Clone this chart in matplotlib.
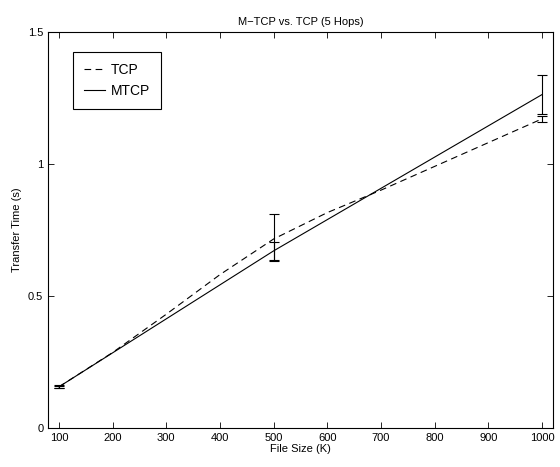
import matplotlib
matplotlib.use("Agg")
import matplotlib.pyplot as plt

plt.rcParams['font.family'] = ['Liberation Sans', 'DejaVu Sans']

# data
tcp_x = [100, 200, 300, 400, 500, 600, 700, 800, 900, 1000]
tcp_y = [0.155, 0.285, 0.43, 0.58, 0.715, 0.815, 0.90, 0.99, 1.08, 1.17]
mtcp_x = [100, 500, 1000]
mtcp_y = [0.155, 0.67, 1.262]

err_x = [100, 500, 1000]
tcp_err_y = [0.155, 0.72, 1.17]
tcp_err = [0.006, 0.09, 0.012]
mtcp_err_y = [0.155, 0.67, 1.262]
mtcp_err = [0.005, 0.035, 0.075]

xticks = [100, 200, 300, 400, 500, 600, 700, 800, 900, 1000]
yticks = [0, 0.5, 1, 1.5]
ytick_labels = ['0', '0.5', '1', '1.5']

fig = plt.figure(figsize=(5.6, 4.67), dpi=100)
ax = fig.add_axes([0.086, 0.084, 0.901, 0.848])

ax.plot(tcp_x, tcp_y, 'k--', lw=0.8, dashes=(6, 4), label='TCP')
ax.plot(mtcp_x, mtcp_y, 'k-', lw=0.8, label='MTCP')
ax.errorbar(err_x, tcp_err_y, yerr=tcp_err, fmt='none', ecolor='k',
            elinewidth=0.8, capsize=3.6, capthick=0.8)
ax.errorbar(err_x, mtcp_err_y, yerr=mtcp_err, fmt='none', ecolor='k',
            elinewidth=0.8, capsize=3.6, capthick=0.8)

ax.set_xlim(80, 1020)
ax.set_ylim(0, 1.5)
ax.set_xticks(xticks)
ax.set_yticks(yticks)
ax.set_yticklabels(ytick_labels)
ax.tick_params(direction='in', top=True, right=True, labelsize=8, length=4, width=0.6)
for s in ax.spines.values():
    s.set_linewidth(0.8)

ax.set_xlabel('File Size (K)', fontsize=8, labelpad=1)
ax.set_ylabel('Transfer Time (s)', fontsize=8)
ax.set_title('M\u2212TCP vs. TCP (5 Hops)', fontsize=8, pad=5)

leg = ax.legend(loc='upper left', bbox_to_anchor=(0.05, 0.95), fontsize=10,
                frameon=True, fancybox=False, edgecolor='k', framealpha=1,
                handlelength=1.5, borderpad=0.8, labelspacing=0.5,
                borderaxespad=0, handletextpad=0.4)
leg.get_frame().set_linewidth(0.8)

fig.savefig('out.png', dpi=100)
